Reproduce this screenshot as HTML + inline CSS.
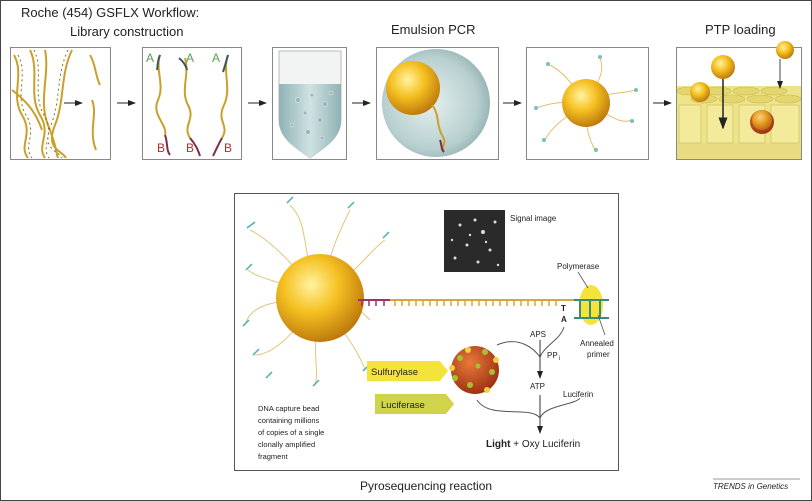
<!DOCTYPE html>
<html><head><meta charset="utf-8"><style>
html,body{margin:0;padding:0;background:#fff}
svg{display:block}
text{font-family:"Liberation Sans",sans-serif;fill:#222}
</style></head><body>
<svg width="812" height="501" viewBox="0 0 812 501" xmlns="http://www.w3.org/2000/svg">
<defs>
<radialGradient id="gold" cx="0.4" cy="0.35" r="0.7"><stop offset="0" stop-color="#fff3a0"/><stop offset="0.45" stop-color="#f5c021"/><stop offset="1" stop-color="#b8720a"/></radialGradient>
<radialGradient id="red" cx="0.4" cy="0.35" r="0.7"><stop offset="0" stop-color="#e87a3a"/><stop offset="1" stop-color="#9a2d10"/></radialGradient>
<radialGradient id="drop" cx="0.45" cy="0.5" r="0.6"><stop offset="0" stop-color="#e4eeee"/><stop offset="0.7" stop-color="#b9d0d0"/><stop offset="1" stop-color="#8eacaf"/></radialGradient>
<linearGradient id="tube" x1="0" x2="1"><stop offset="0" stop-color="#8fb2b5"/><stop offset="0.5" stop-color="#cfe2e3"/><stop offset="1" stop-color="#8fb2b5"/></linearGradient>
<marker id="ah" markerWidth="8" markerHeight="8" refX="7" refY="4" orient="auto"><path d="M0,1 L8,4 L0,7 Z" fill="#222"/></marker>
</defs>
<rect x="0.5" y="0.5" width="811" height="500" fill="#fff" stroke="#444"/>
<text x="21" y="17" font-size="13">Roche (454) GSFLX Workflow:</text>
<text x="70" y="36" font-size="13">Library construction</text>
<text x="391" y="34" font-size="13">Emulsion PCR</text>
<text x="705" y="34" font-size="13">PTP loading</text>

<rect x="10.5" y="47.5" width="100" height="112" fill="#fff" stroke="#888"/>
<g stroke="#c9a02a" stroke-width="2" fill="none">
<path d="M14,55 C25,75 10,95 22,115 S18,145 28,158"/>
<path d="M30,50 C40,70 28,95 40,115 S36,145 45,158"/>
<path d="M45,50 C50,75 38,100 48,125 S55,150 58,158"/>
<path d="M72,50 C60,75 65,100 55,125 S62,150 66,158"/>
<path d="M90,55 C96,65 95,75 100,85"/>
<path d="M92,100 C98,115 88,130 96,150"/>
<path d="M12,90 C25,100 35,110 42,130"/>
</g>
<g stroke="#8a6d1a" stroke-width="1" fill="none" stroke-dasharray="2 3">
<path d="M18,55 C29,75 14,95 26,115 S22,145 32,158"/>
<path d="M34,50 C44,70 32,95 44,115 S40,145 49,158"/>
<path d="M68,50 C56,75 61,100 51,125 S58,150 62,158"/>
</g>
<line x1="64" y1="103" x2="82" y2="103" stroke="#222" marker-end="url(#ah)"/>

<line x1="117" y1="103" x2="135" y2="103" stroke="#222" marker-end="url(#ah)"/>
<rect x="142.5" y="47.5" width="99" height="112" fill="#fff" stroke="#888"/>
<g fill="none" stroke-width="2">
<path d="M160,55 C155,70 165,85 158,100 S168,125 165,135" stroke="#c9a02a"/>
<path d="M160,55 C157,62 158,66 157,70" stroke="#3a5a5a"/>
<path d="M165,135 C168,143 166,150 170,155" stroke="#7a3050"/>
<path d="M185,58 C190,75 180,90 188,105 S182,125 190,138" stroke="#c9a02a"/>
<path d="M179,58 C184,62 186,66 187,70" stroke="#3a5a5a"/>
<path d="M190,138 C196,145 198,150 200,156" stroke="#7a3050"/>
<path d="M228,55 C222,72 232,88 224,105 S230,125 222,138" stroke="#c9a02a"/>
<path d="M228,55 C226,62 225,66 223,72" stroke="#3a5a5a"/>
<path d="M222,138 C218,145 216,150 213,156" stroke="#7a3050"/>
</g>
<text x="146" y="62" font-size="12" style="fill:#5aa050">A</text>
<text x="186" y="62" font-size="12" style="fill:#5aa050">A</text>
<text x="212" y="62" font-size="12" style="fill:#5aa050">A</text>
<text x="157" y="152" font-size="12" style="fill:#b03030">B</text>
<text x="186" y="152" font-size="12" style="fill:#b03030">B</text>
<text x="224" y="152" font-size="12" style="fill:#b03030">B</text>

<line x1="248" y1="103" x2="266" y2="103" stroke="#222" marker-end="url(#ah)"/>
<rect x="272.5" y="47.5" width="74" height="112" fill="#fff" stroke="#888"/>
<path d="M279,51 L341,51 L341,120 C341,140 320,150 310,158 C300,150 279,140 279,120 Z" fill="#f2f4f4" stroke="#bbb"/>
<path d="M279,84 L341,84 L341,120 C341,140 320,150 310,158 C300,150 279,140 279,120 Z" fill="url(#tube)"/>
<g fill="#9ab8ba" stroke="#eef" stroke-width="0.5">
<circle cx="298" cy="100" r="2.5"/><circle cx="312" cy="95" r="2"/><circle cx="325" cy="104" r="2.5"/><circle cx="305" cy="113" r="2"/><circle cx="320" cy="120" r="2.5"/><circle cx="331" cy="93" r="2"/><circle cx="308" cy="132" r="2.5"/><circle cx="322" cy="138" r="2"/><circle cx="292" cy="125" r="2"/>
</g>

<line x1="352" y1="103" x2="370" y2="103" stroke="#222" marker-end="url(#ah)"/>
<rect x="376.5" y="47.5" width="122" height="112" fill="#fff" stroke="#888"/>
<circle cx="436" cy="103" r="54" fill="url(#drop)"/>
<circle cx="413" cy="88" r="27" fill="url(#gold)"/>
<path d="M432,105 C440,115 436,125 442,135 S440,145 444,152" stroke="#c9a02a" stroke-width="2" fill="none"/>
<path d="M440,140 C442,145 441,150 444,152" stroke="#7a3050" stroke-width="2" fill="none"/>

<line x1="503" y1="103" x2="521" y2="103" stroke="#222" marker-end="url(#ah)"/>
<rect x="526.5" y="47.5" width="122" height="112" fill="#fff" stroke="#888"/>
<g stroke="#e0c070" stroke-width="1" fill="none">
<path d="M586,103 C570,80 560,70 550,65"/><path d="M586,103 C600,80 605,70 600,58"/><path d="M586,103 C610,90 620,95 635,90"/><path d="M586,103 C610,115 620,125 632,120"/><path d="M586,103 C585,130 590,140 595,150"/><path d="M586,103 C560,120 550,130 545,140"/><path d="M586,103 C560,100 545,105 536,108"/>
</g>
<g fill="#7ac0b8"><circle cx="548" cy="64" r="2"/><circle cx="600" cy="57" r="2"/><circle cx="636" cy="90" r="2"/><circle cx="632" cy="121" r="2"/><circle cx="596" cy="150" r="2"/><circle cx="544" cy="140" r="2"/><circle cx="536" cy="108" r="2"/></g>
<circle cx="586" cy="103" r="24" fill="url(#gold)"/>

<line x1="653" y1="103" x2="671" y2="103" stroke="#222" marker-end="url(#ah)"/>
<rect x="676.5" y="47.5" width="125" height="112" fill="#f6f3e0" stroke="#888"/>
<rect x="677" y="48" width="124" height="38" fill="#fff"/>
<rect x="677" y="86" width="124" height="73" fill="#efe38a"/>
<g fill="#e4d66e" stroke="#c8ba55" stroke-width="0.6">
<ellipse cx="690" cy="91" rx="13" ry="4"/><ellipse cx="718" cy="91" rx="13" ry="4"/><ellipse cx="746" cy="91" rx="13" ry="4"/><ellipse cx="774" cy="91" rx="13" ry="4"/>
<ellipse cx="704" cy="99" rx="13" ry="4"/><ellipse cx="732" cy="99" rx="13" ry="4"/><ellipse cx="760" cy="99" rx="13" ry="4"/><ellipse cx="788" cy="99" rx="13" ry="4"/>
</g>
<rect x="677" y="143" width="124" height="16" fill="#e9dc80"/>
<g fill="#f4ea9c" stroke="#c8ba55" stroke-width="0.6">
<rect x="679" y="105" width="22" height="38"/><rect x="707" y="105" width="26" height="38"/><rect x="739" y="105" width="26" height="38"/><rect x="771" y="105" width="28" height="38"/>
</g>
<circle cx="723" cy="67" r="12" fill="url(#gold)"/>
<circle cx="700" cy="92" r="10" fill="url(#gold)"/>
<circle cx="785" cy="50" r="9" fill="url(#gold)"/>
<circle cx="762" cy="122" r="12" fill="url(#red)"/>
<circle cx="762" cy="120" r="10" fill="url(#gold)" opacity="0.7"/>
<line x1="723" y1="79" x2="723" y2="128" stroke="#222" stroke-width="1.5" marker-end="url(#ah)"/>
<line x1="780" y1="59" x2="780" y2="88" stroke="#444" stroke-width="1" marker-end="url(#ah)"/>

<rect x="234.5" y="193.5" width="384" height="277" fill="#fff" stroke="#555"/>
<g stroke="#e3c57a" stroke-width="1" fill="none">
<path d="M320,298 C290,260 270,240 250,230"/><path d="M320,298 C300,250 310,225 290,205"/><path d="M320,298 C330,250 340,230 350,210"/><path d="M320,298 C360,270 370,250 385,240"/><path d="M320,298 C260,300 250,310 245,325"/><path d="M320,298 C290,340 270,355 255,355"/><path d="M320,298 C310,350 320,370 315,385"/><path d="M320,298 C350,340 360,355 365,370"/><path d="M320,298 C280,280 260,280 248,270"/><path d="M320,298 C350,300 360,310 370,320"/>
</g>
<g stroke="#4fb0a8" stroke-width="1.5" fill="none">
<path d="M247,228 l8,-6 M287,203 l6,-6 M348,208 l6,-6 M383,238 l6,-6 M243,326 l6,-6 M253,355 l6,-6 M313,386 l6,-6 M363,371 l6,-6 M246,270 l6,-6 M266,378 l6,-6"/>
</g>
<circle cx="320" cy="298" r="44" fill="url(#gold)"/>
<path d="M358,300 L580,300" stroke="#d6a640" stroke-width="2"/>
<path d="M358,300 L390,300" stroke="#a03060" stroke-width="2"/>
<g stroke="#d6a640" stroke-width="1.5">
<path d="M395,300v6M402,300v6M409,300v6M416,300v6M423,300v6M430,300v6M437,300v6M444,300v6M451,300v6M458,300v6M465,300v6M472,300v6M479,300v6M486,300v6M493,300v6M500,300v6M507,300v6M514,300v6M521,300v6M528,300v6M535,300v6M542,300v6M549,300v6M556,300v6"/>
</g>
<g stroke="#a03060" stroke-width="1.5"><path d="M362,300v6M369,300v6M376,300v6M384,300v6"/></g>
<ellipse cx="591" cy="305" rx="12" ry="20" fill="#f4e33a"/>
<g stroke="#3a8a80" stroke-width="2"><path d="M574,300H609M574,318H609M580,300v18M590,300v18M600,300v18"/></g>
<rect x="444" y="210" width="61" height="62" fill="#2a2a2a"/>
<g fill="#ddd"><circle cx="460" cy="225" r="1.5"/><circle cx="475" cy="220" r="1.5"/><circle cx="483" cy="232" r="2"/><circle cx="467" cy="245" r="1.5"/><circle cx="490" cy="250" r="1.5"/><circle cx="455" cy="258" r="1.5"/><circle cx="478" cy="262" r="1.5"/><circle cx="495" cy="222" r="1.5"/><circle cx="470" cy="235" r="1.2"/><circle cx="486" cy="242" r="1.2"/><circle cx="452" cy="240" r="1.2"/><circle cx="498" cy="265" r="1.2"/></g>
<text x="510" y="221" font-size="8">Signal image</text>
<text x="557" y="269" font-size="8">Polymerase</text>
<line x1="578" y1="272" x2="588" y2="288" stroke="#555" stroke-width="0.8"/>
<text x="561" y="311" font-size="8" font-weight="bold">T</text>
<text x="561" y="322" font-size="8" font-weight="bold">A</text>
<text x="530" y="337" font-size="8">APS</text>
<text x="547" y="358" font-size="8">PP</text><text x="559" y="360" font-size="6">i</text>
<text x="580" y="346" font-size="8">Annealed</text>
<text x="587" y="357" font-size="8">primer</text>
<line x1="598" y1="315" x2="605" y2="335" stroke="#555" stroke-width="0.8"/>
<path d="M497,345 C520,335 535,350 540,357 C545,345 560,340 564,327" stroke="#555" fill="none"/>
<line x1="540" y1="340" x2="540" y2="378" stroke="#333" marker-end="url(#ah)"/>
<text x="530" y="389" font-size="8">ATP</text>
<text x="563" y="397" font-size="8">Luciferin</text>
<path d="M477,400 C490,420 530,405 540,418 C545,405 575,405 580,398" stroke="#555" fill="none"/>
<line x1="540" y1="395" x2="540" y2="433" stroke="#333" marker-end="url(#ah)"/>
<text x="486" y="447" font-size="10"><tspan font-weight="bold">Light</tspan> + Oxy Luciferin</text>
<circle cx="475" cy="370" r="24" fill="url(#red)"/>
<g fill="#a8c030"><circle cx="460" cy="358" r="3"/><circle cx="485" cy="352" r="3"/><circle cx="492" cy="372" r="3"/><circle cx="470" cy="385" r="3"/><circle cx="455" cy="378" r="3"/><circle cx="478" cy="366" r="2.5"/></g>
<g fill="#f0d040"><circle cx="468" cy="350" r="3"/><circle cx="496" cy="360" r="3"/><circle cx="487" cy="390" r="3"/><circle cx="452" cy="368" r="3"/></g>
<path d="M367,361 H440 L448,371 L440,381 H367 Z" fill="#f4e33a"/>
<text x="371" y="375" font-size="9.5">Sulfurylase</text>
<path d="M375,394 H446 L454,404 L446,414 H375 Z" fill="#cfd44a"/>
<text x="381" y="408" font-size="9.5">Luciferase</text>
<text font-size="7.5"><tspan x="258" y="411">DNA capture bead</tspan><tspan x="258" y="423">containing millions</tspan><tspan x="258" y="435">of copies of a single</tspan><tspan x="258" y="447">clonally amplified</tspan><tspan x="258" y="459">fragment</tspan></text>
<text x="426" y="490" font-size="12" text-anchor="middle">Pyrosequencing reaction</text>
<line x1="713" y1="479" x2="800" y2="479" stroke="#333" stroke-width="0.6"/>
<text x="713" y="489" font-size="8" font-style="italic">TRENDS in Genetics</text>
</svg>
</body></html>
